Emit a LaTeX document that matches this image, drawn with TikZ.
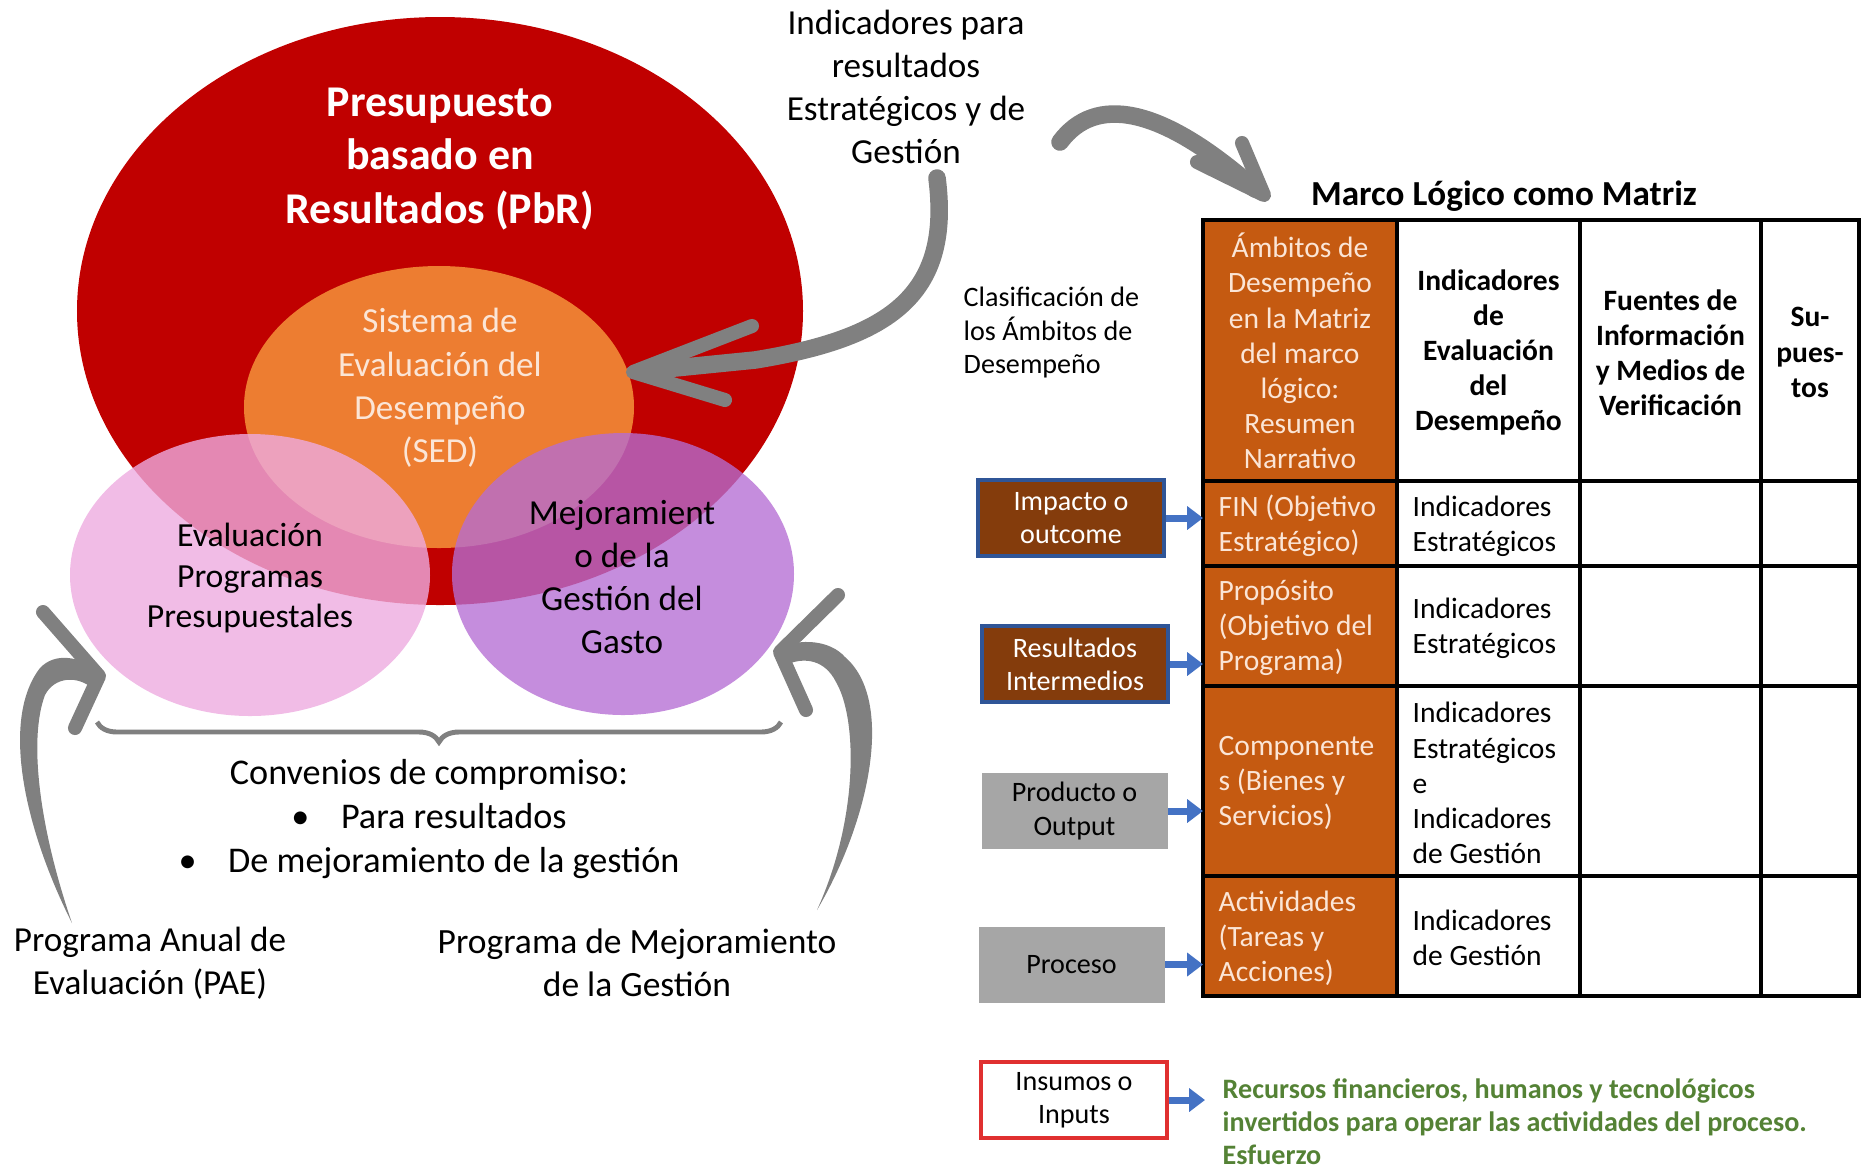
\documentclass[tikz,border=0pt]{standalone}
\usepackage{fontspec}
\setmainfont{Carlito}
\usetikzlibrary{arrows.meta,decorations.pathreplacing}
\definecolor{pbrred}{RGB}{192,0,0}
\definecolor{sedor}{RGB}{237,125,49}
\definecolor{pinkc}{RGB}{237,171,224}
\definecolor{purpc}{RGB}{181,109,211}
\definecolor{cream}{RGB}{251,229,214}
\definecolor{tabor}{RGB}{197,90,17}
\definecolor{brownbox}{RGB}{132,60,12}
\definecolor{boxblue}{RGB}{47,85,151}
\definecolor{boxgray}{RGB}{166,166,166}
\definecolor{arrblue}{RGB}{68,114,196}
\definecolor{swgray}{RGB}{128,128,128}
\definecolor{recgreen}{RGB}{84,130,53}
\definecolor{insred}{RGB}{224,48,48}

\begin{document}
\begin{tikzpicture}[x=1cm,y=-1cm,
  swoosh/.style={draw=swgray,line width=5pt,line cap=round},
  barb/.style={draw=swgray,line width=4pt,line cap=round,line join=round},
  txt/.style={align=center,font=\fontsize{10}{12.3}\selectfont},
  box/.style={minimum width=1.86cm,minimum height=0.76cm,inner sep=0pt,align=center,font=\fontsize{8}{9.4}\selectfont},
  cell/.style={anchor=west,inner xsep=0.15cm,inner ysep=0pt,align=left,font=\fontsize{8.4}{10}\selectfont},
  head/.style={align=center,font=\bfseries\fontsize{8.4}{10}\selectfont},
  bluearrow/.style={draw=arrblue,line width=2pt,-{Triangle[length=4.5pt,width=6.5pt]}}]
\useasboundingbox (0,0) rectangle (18.64,11.68);

\fill[pbrred] (4.40,3.11) ellipse [x radius=3.63,y radius=2.94];
\fill[sedor] (4.39,4.07) ellipse [x radius=1.95,y radius=1.41];
\fill[pinkc,opacity=0.8] (2.50,5.75) ellipse [x radius=1.80,y radius=1.41];
\fill[purpc,opacity=0.78] (6.23,5.74) ellipse [x radius=1.71,y radius=1.41];

\node[text=white,align=center,font=\bfseries\fontsize{12.5}{15.1}\selectfont] (pbr) at (4.40,1.59) {Presupuesto\\basado en\\Resultados (PbR)};
\node[txt,text=cream] (sed) at (4.40,3.88) {Sistema de\\Evaluación del\\Desempeño\\(SED)};
\node[align=center,font=\fontsize{9.6}{11.4}\selectfont] (evalprog) at (2.50,5.78) {Evaluación\\Programas\\Presupuestales};
\node[txt] (mejora) at (6.22,5.77) {Mejoramient\\o de la\\Gestión del\\Gasto};

\draw[swgray,line width=1.4pt,decorate,decoration={brace,mirror,amplitude=0.2cm}] (0.97,7.22) -- (7.81,7.22);
\node[txt,font=\fontsize{10.3}{12.4}\selectfont] (convenios) at (4.29,8.19) {Convenios de compromiso:\\\textbullet\hspace{9pt}Para resultados\\\textbullet\hspace{9pt}De mejoramiento de la gestión};
\node[txt] (pae) at (1.50,9.63) {Programa Anual de\\Evaluación (PAE)};
\node[txt,font=\fontsize{10.1}{12.3}\selectfont] (pmg) at (6.37,9.63) {Programa de Mejoramiento\\de la Gestión};
\node[txt] (indicpara) at (9.06,0.87) {Indicadores para\\resultados\\Estratégicos y de\\Gestión};

\coordinate (sedtip) at (6.33,3.72);
\coordinate (marcotip) at (12.64,1.95);
\draw[swoosh] (9.37,1.78) .. controls (9.52,2.95) and (8.90,3.38) .. (7.55,3.60) -- (6.45,3.71);
\draw[barb] (7.52,3.26) -- (sedtip) -- (7.25,4.00);
\draw[swoosh] (10.60,1.42) .. controls (10.95,0.95) and (11.60,1.05) .. (12.55,1.89);
\draw[barb] (12.42,1.43) -- (marcotip) -- (11.97,1.62);

\fill[swgray] (0.72,9.23) .. controls (0.25,8.30) and (0.00,7.20) .. (0.40,6.68) .. controls (0.55,6.52) and (0.80,6.56) .. (1.00,6.72) -- (0.92,6.88) .. controls (0.78,6.76) and (0.55,6.76) .. (0.45,6.95) .. controls (0.28,7.40) and (0.40,8.30) .. (0.72,9.23) -- cycle;
\draw[barb] (0.43,6.12) -- (0.99,6.76) -- (0.75,7.28);
\fill[swgray] (8.17,9.10) .. controls (8.70,8.20) and (8.95,7.00) .. (8.45,6.57) .. controls (8.30,6.40) and (8.00,6.38) .. (7.80,6.48) -- (7.88,6.64) .. controls (8.05,6.57) and (8.25,6.60) .. (8.36,6.82) .. controls (8.58,7.20) and (8.58,8.20) .. (8.17,9.10) -- cycle;
\draw[barb] (8.38,5.95) -- (7.80,6.52) -- (8.06,7.10);

\node[font=\bfseries\fontsize{10}{12}\selectfont] (marco) at (15.04,1.96) {Marco Lógico como Matriz};
\node[anchor=west,inner sep=0pt,align=left,font=\fontsize{8}{9.5}\selectfont] (clasif) at (9.63,3.325) {Clasificación de\\los Ámbitos de\\Desempeño};

\fill[tabor] (12.03,2.20) rectangle (13.97,9.96);
\draw[line width=0.9pt] (12.03,2.20) rectangle (18.59,9.96);
\foreach \y in {4.81,5.66,6.86,8.76} \draw[line width=0.9pt] (12.03,\y) -- (18.59,\y);
\foreach \x in {13.97,15.80,17.61} \draw[line width=0.9pt] (\x,2.20) -- (\x,9.96);

\node[align=center,text=cream,font=\fontsize{8.4}{10}\selectfont] (ambitos) at (13.00,3.51) {Ámbitos de\\Desempeño\\en la Matriz\\del marco\\lógico:\\Resumen\\Narrativo};
\node[head] (indic) at (14.885,3.525) {Indicadores\\de\\Evaluación\\del\\Desempeño};
\node[head] (fuentes) at (16.705,3.525) {Fuentes de\\Información\\y Medios de\\Verificación};
\node[head] (supuestos) at (18.10,3.525) {Su-\\pues-\\tos};

\node[cell,text=cream] (fin) at (12.03,5.26) {FIN (Objetivo\\Estratégico)};
\node[cell] (finind) at (13.97,5.26) {Indicadores\\Estratégicos};
\node[cell,text=cream] (proposito) at (12.03,6.28) {Propósito\\(Objetivo del\\Programa)};
\node[cell] (propind) at (13.97,6.28) {Indicadores\\Estratégicos};
\node[cell,text=cream] (componentes) at (12.03,7.83) {Componente\\s (Bienes y\\Servicios)};
\node[cell] (compind) at (13.97,7.83) {Indicadores\\Estratégicos\\e\\Indicadores\\de Gestión};
\node[cell,text=cream] (actividades) at (12.03,9.38) {Actividades\\(Tareas y\\Acciones)};
\node[cell] (actind) at (13.97,9.38) {Indicadores\\de Gestión};

\node[box,fill=brownbox,draw=boxblue,line width=1pt,text=white] (impacto) at (10.71,5.18) {Impacto o\\outcome};
\node[box,fill=brownbox,draw=boxblue,line width=1pt,text=white] (resultados) at (10.75,6.64) {Resultados\\Intermedios};
\node[box,fill=boxgray] (producto) at (10.745,8.11) {Producto o\\Output};
\node[box,fill=boxgray] (proceso) at (10.715,9.645) {Proceso};
\node[box,fill=white,draw=insred,line width=1pt] (insumos) at (10.74,11.00) {Insumos o\\Inputs};
\node[anchor=west,inner xsep=0.17cm,inner ysep=0pt,align=left,text=recgreen,font=\bfseries\fontsize{8}{9.4}\selectfont] (esfuerzo) at (12.05,11.22) {Recursos financieros, humanos y tecnológicos\\invertidos para operar las actividades del proceso.\\Esfuerzo};

\draw[bluearrow] (impacto) -- (impacto -| fin.west);
\draw[bluearrow] (resultados) -- (resultados -| proposito.west);
\draw[bluearrow] (producto) -- (producto -| componentes.west);
\draw[bluearrow] (proceso) -- (proceso -| actividades.west);
\draw[bluearrow] (insumos) -- (insumos -| esfuerzo.west);
\end{tikzpicture}
\end{document}
